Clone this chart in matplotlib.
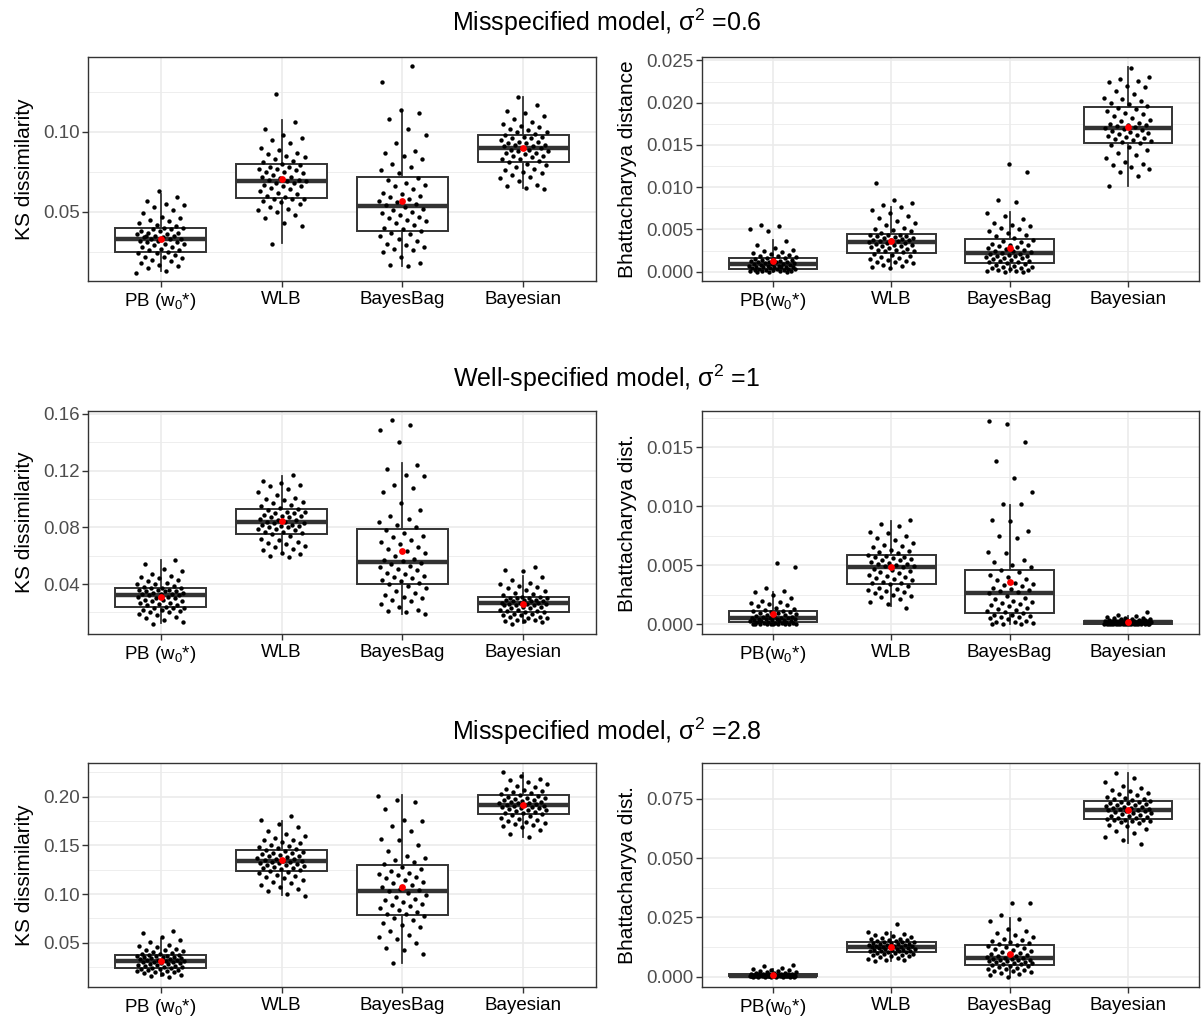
import numpy as np
import matplotlib
matplotlib.use('Agg')
import matplotlib.pyplot as plt
from matplotlib.ticker import MultipleLocator, FormatStrFormatter

plt.rcParams['font.family'] = ['Liberation Sans', 'DejaVu Sans']
plt.rcParams['mathtext.fontset'] = 'custom'
plt.rcParams['mathtext.rm'] = 'Liberation Sans'
plt.rcParams['mathtext.it'] = 'Liberation Sans:italic'

# method names
methods = ['PB', 'WLB', 'BayesBag', 'Bayesian']
labels_ks = [r'PB ($\mathregular{w_0}$*)', 'WLB', 'BayesBag', 'Bayesian']
labels_bh = [r'PB($\mathregular{w_0}$*)', 'WLB', 'BayesBag', 'Bayesian']

titles = [r'Misspecified model, $\mathregular{\sigma^2}$ =0.6',
          r'Well-specified model, $\mathregular{\sigma^2}$ =1',
          r'Misspecified model, $\mathregular{\sigma^2}$ =2.8']

# ---- box stats (whislo, q1, med, q3, whishi, mean)
# row 1, sigma^2 = 0.6
ks06_box = [[0.0131, 0.0250, 0.0333, 0.0398, 0.0610, 0.0333],
            [0.0306, 0.0588, 0.0696, 0.0798, 0.1077, 0.0704],
            [0.0160, 0.0377, 0.0535, 0.0717, 0.1140, 0.0567],
            [0.0646, 0.0810, 0.0900, 0.0980, 0.1219, 0.0900]]
bh06_box = [[0.0000, 0.0003, 0.0009, 0.0016, 0.0038, 0.00126],
            [0.0004, 0.0022, 0.00346, 0.00445, 0.0077, 0.0036],
            [0.0000, 0.00106, 0.00217, 0.00386, 0.00705, 0.00276],
            [0.0101, 0.01524, 0.01705, 0.0195, 0.0242, 0.0171]]
# row 2, sigma^2 = 1
ks1_box = [[0.0125, 0.0236, 0.0320, 0.0372, 0.0571, 0.0306],
           [0.0611, 0.0755, 0.0837, 0.0928, 0.1166, 0.0846],
           [0.0189, 0.0400, 0.0555, 0.0790, 0.1257, 0.0630],
           [0.0125, 0.0200, 0.0266, 0.0308, 0.0454, 0.0261]]
bh1_box = [[0.0000, 0.00014, 0.0005, 0.00113, 0.0027, 0.00084],
           [0.0015, 0.00343, 0.00484, 0.0059, 0.00875, 0.00484],
           [0.0000, 0.00093, 0.00267, 0.00462, 0.0101, 0.00357],
           [0.0000, 0.0000, 0.00014, 0.00028, 0.00065, 0.00017]]
# row 3, sigma^2 = 2.8
ks28_box = [[0.0158, 0.0243, 0.0312, 0.0373, 0.0534, 0.0312],
            [0.0990, 0.1236, 0.1339, 0.1452, 0.1750, 0.1346],
            [0.0291, 0.0784, 0.1031, 0.1298, 0.2017, 0.1072],
            [0.1586, 0.1818, 0.1911, 0.2014, 0.2247, 0.1911]]
bh28_box = [[0.0000, 0.0001, 0.0004, 0.0010, 0.0030, 0.0007],
            [0.0066, 0.0104, 0.0125, 0.0146, 0.0189, 0.0125],
            [0.0000, 0.0051, 0.0080, 0.0134, 0.0249, 0.0094],
            [0.0564, 0.0664, 0.0705, 0.0742, 0.0861, 0.0705]]

# ---- individual replicate values (estimated from the jittered dots)
ks06_pb = [0.012, 0.013, 0.015, 0.016, 0.017, 0.018, 0.019, 0.020, 0.021, 0.022, 0.022, 0.023, 0.024, 0.024, 0.025,
           0.026, 0.026, 0.027, 0.028, 0.028, 0.029, 0.030, 0.030, 0.031, 0.031, 0.032, 0.032, 0.033, 0.033, 0.033,
           0.034, 0.034, 0.035, 0.035, 0.036, 0.036, 0.037, 0.037, 0.038, 0.038, 0.039, 0.039, 0.040, 0.040, 0.035,
           0.041, 0.042, 0.043, 0.044, 0.045, 0.046, 0.047, 0.049, 0.051, 0.053, 0.054, 0.055, 0.057, 0.059, 0.063]
ks06_wlb = [0.030, 0.041, 0.043, 0.046, 0.048, 0.050, 0.051, 0.052, 0.053, 0.055, 0.056, 0.057, 0.058, 0.058, 0.058,
            0.059, 0.060, 0.061, 0.062, 0.063, 0.064, 0.065, 0.066, 0.066, 0.067, 0.068, 0.068, 0.069, 0.069, 0.070,
            0.070, 0.071, 0.072, 0.072, 0.073, 0.074, 0.075, 0.075, 0.076, 0.077, 0.077, 0.078, 0.078, 0.079, 0.080,
            0.081, 0.082, 0.083, 0.084, 0.085, 0.086, 0.087, 0.089, 0.090, 0.093, 0.095, 0.096, 0.098, 0.102, 0.106, 0.124]
ks06_bb = [0.016, 0.017, 0.018, 0.022, 0.025, 0.026, 0.027, 0.028, 0.029, 0.030, 0.032, 0.033, 0.035, 0.036, 0.037,
           0.038, 0.039, 0.040, 0.042, 0.043, 0.044, 0.045, 0.046, 0.047, 0.048, 0.049, 0.050, 0.051, 0.052, 0.053,
           0.054, 0.055, 0.056, 0.057, 0.058, 0.059, 0.060, 0.061, 0.062, 0.064, 0.066, 0.067, 0.068, 0.070, 0.071,
           0.074, 0.076, 0.078, 0.080, 0.083, 0.085, 0.087, 0.088, 0.093, 0.098, 0.102, 0.108, 0.112, 0.114, 0.131, 0.141]
ks06_bay = [0.064, 0.065, 0.066, 0.067, 0.069, 0.071, 0.072, 0.073, 0.074, 0.075, 0.076, 0.077, 0.078, 0.079, 0.080,
            0.081, 0.082, 0.083, 0.083, 0.084, 0.085, 0.085, 0.086, 0.087, 0.087, 0.088, 0.088, 0.089, 0.089, 0.090,
            0.090, 0.091, 0.091, 0.092, 0.092, 0.093, 0.093, 0.094, 0.094, 0.095, 0.096, 0.096, 0.097, 0.097, 0.098,
            0.099, 0.100, 0.100, 0.101, 0.102, 0.103, 0.104, 0.105, 0.106, 0.108, 0.110, 0.112, 0.113, 0.117, 0.122]

bh06_pb = [0.0000, 0.0000, 0.0000, 0.0001, 0.0001, 0.0001, 0.0001, 0.0002, 0.0002, 0.0002, 0.0002, 0.0003, 0.0003, 0.0003, 0.0003,
           0.0004, 0.0004, 0.0005, 0.0005, 0.0005, 0.0006, 0.0006, 0.0006, 0.0007, 0.0007, 0.0007, 0.0008, 0.0008, 0.0009, 0.0009,
           0.0009, 0.0010, 0.0010, 0.0011, 0.0011, 0.0012, 0.0012, 0.0013, 0.0013, 0.0014, 0.0014, 0.0015, 0.0015, 0.0016, 0.0016,
           0.0017, 0.0018, 0.0019, 0.0020, 0.0021, 0.0022, 0.0023, 0.0024, 0.0026, 0.0028, 0.0032, 0.0036, 0.0048, 0.0050, 0.0054, 0.0055]
bh06_wlb = [0.0004, 0.0006, 0.0007, 0.0008, 0.0010, 0.0011, 0.0012, 0.0013, 0.0014, 0.0015, 0.0016, 0.0017, 0.0018, 0.0020, 0.0021,
            0.0023, 0.0024, 0.0025, 0.0026, 0.0026, 0.0027, 0.0028, 0.0029, 0.0030, 0.0030, 0.0031, 0.0032, 0.0033, 0.0034, 0.0034,
            0.0035, 0.0036, 0.0036, 0.0037, 0.0038, 0.0038, 0.0039, 0.0040, 0.0040, 0.0041, 0.0042, 0.0042, 0.0043, 0.0044, 0.0044,
            0.0046, 0.0048, 0.0049, 0.0050, 0.0052, 0.0055, 0.0058, 0.0060, 0.0063, 0.0066, 0.0070, 0.0073, 0.0077, 0.0079, 0.0081, 0.0085, 0.0105]
bh06_bb = [0.0000, 0.0000, 0.0001, 0.0001, 0.0002, 0.0002, 0.0003, 0.0004, 0.0004, 0.0005, 0.0006, 0.0007, 0.0008, 0.0009, 0.0010,
           0.0011, 0.0012, 0.0013, 0.0013, 0.0014, 0.0015, 0.0016, 0.0016, 0.0017, 0.0018, 0.0019, 0.0019, 0.0020, 0.0021, 0.0021,
           0.0022, 0.0023, 0.0024, 0.0025, 0.0026, 0.0027, 0.0028, 0.0029, 0.0030, 0.0031, 0.0032, 0.0033, 0.0035, 0.0036, 0.0038,
           0.0040, 0.0042, 0.0044, 0.0046, 0.0048, 0.0050, 0.0052, 0.0054, 0.0055, 0.0058, 0.0062, 0.0066, 0.0069, 0.0083, 0.0085, 0.0118, 0.0128]
bh06_bay = [0.0101, 0.0113, 0.0118, 0.0122, 0.0124, 0.0126, 0.0128, 0.0130, 0.0135, 0.0138, 0.0140, 0.0144, 0.0147, 0.0150, 0.0152,
            0.0153, 0.0155, 0.0156, 0.0157, 0.0158, 0.0159, 0.0160, 0.0162, 0.0163, 0.0164, 0.0165, 0.0166, 0.0168, 0.0169, 0.0170,
            0.0171, 0.0172, 0.0173, 0.0174, 0.0175, 0.0176, 0.0178, 0.0180, 0.0182, 0.0184, 0.0186, 0.0188, 0.0190, 0.0192, 0.0194,
            0.0196, 0.0198, 0.0200, 0.0202, 0.0204, 0.0206, 0.0210, 0.0214, 0.0218, 0.0220, 0.0224, 0.0226, 0.0228, 0.0230, 0.0241]

ks1_pb = [0.012, 0.013, 0.015, 0.016, 0.017, 0.018, 0.019, 0.020, 0.020, 0.021, 0.022, 0.022, 0.023, 0.023, 0.023,
          0.024, 0.025, 0.025, 0.026, 0.027, 0.027, 0.028, 0.028, 0.029, 0.029, 0.030, 0.030, 0.031, 0.031, 0.032,
          0.032, 0.033, 0.033, 0.033, 0.034, 0.034, 0.035, 0.035, 0.035, 0.036, 0.036, 0.036, 0.037, 0.037, 0.037,
          0.038, 0.039, 0.040, 0.040, 0.041, 0.042, 0.043, 0.044, 0.045, 0.046, 0.047, 0.049, 0.051, 0.054, 0.057]
ks1_wlb = [0.059, 0.060, 0.061, 0.062, 0.064, 0.065, 0.066, 0.067, 0.068, 0.069, 0.070, 0.071, 0.072, 0.074, 0.075,
           0.076, 0.077, 0.077, 0.078, 0.079, 0.079, 0.080, 0.080, 0.081, 0.081, 0.082, 0.082, 0.083, 0.083, 0.084,
           0.084, 0.085, 0.085, 0.086, 0.087, 0.087, 0.088, 0.088, 0.089, 0.090, 0.090, 0.091, 0.091, 0.092, 0.093,
           0.094, 0.095, 0.096, 0.097, 0.098, 0.099, 0.100, 0.101, 0.103, 0.105, 0.107, 0.109, 0.110, 0.111, 0.113, 0.117]
ks1_bb = [0.019, 0.020, 0.021, 0.022, 0.024, 0.026, 0.028, 0.029, 0.030, 0.031, 0.032, 0.034, 0.035, 0.037, 0.039,
          0.040, 0.041, 0.042, 0.043, 0.044, 0.045, 0.046, 0.047, 0.048, 0.050, 0.051, 0.052, 0.053, 0.054, 0.055,
          0.056, 0.057, 0.058, 0.060, 0.062, 0.063, 0.065, 0.066, 0.068, 0.070, 0.071, 0.073, 0.074, 0.076, 0.078,
          0.080, 0.082, 0.084, 0.086, 0.088, 0.092, 0.097, 0.105, 0.108, 0.110, 0.116, 0.117, 0.121, 0.124, 0.140, 0.149, 0.152, 0.156]
ks1_bay = [0.012, 0.013, 0.014, 0.014, 0.015, 0.015, 0.016, 0.016, 0.017, 0.017, 0.018, 0.018, 0.019, 0.019, 0.020,
           0.020, 0.021, 0.021, 0.022, 0.022, 0.023, 0.023, 0.024, 0.024, 0.025, 0.025, 0.025, 0.026, 0.026, 0.026,
           0.027, 0.027, 0.027, 0.028, 0.028, 0.028, 0.029, 0.029, 0.029, 0.030, 0.030, 0.030, 0.030, 0.031, 0.031,
           0.032, 0.033, 0.034, 0.035, 0.036, 0.037, 0.038, 0.039, 0.040, 0.041, 0.043, 0.045, 0.049, 0.050, 0.052]

bh1_pb = [0.0, 0.0, 0.0, 0.0, 0.0, 0.00001, 0.00002, 0.00003, 0.00004, 0.00005, 0.00006, 0.00008, 0.0001, 0.00012, 0.00014,
          0.00016, 0.0002, 0.00022, 0.00025, 0.00028, 0.0003, 0.00032, 0.00035, 0.00038, 0.0004, 0.00042, 0.00045, 0.00047, 0.00049, 0.0005,
          0.00052, 0.00055, 0.0006, 0.00062, 0.00066, 0.0007, 0.00075, 0.0008, 0.00085, 0.0009, 0.00095, 0.001, 0.00105, 0.0011, 0.00112,
          0.0012, 0.0013, 0.0014, 0.0015, 0.0016, 0.0017, 0.0018, 0.0019, 0.002, 0.0022, 0.0025, 0.0027, 0.0028, 0.0031, 0.0048, 0.0052]
bh1_wlb = [0.0014, 0.0017, 0.0019, 0.0021, 0.0023, 0.0024, 0.0025, 0.0026, 0.0027, 0.0028, 0.0029, 0.0030, 0.0031, 0.0032, 0.0034,
           0.0035, 0.0035, 0.0036, 0.0037, 0.0038, 0.0039, 0.0040, 0.0041, 0.0042, 0.0043, 0.0044, 0.0045, 0.0046, 0.0047, 0.0048,
           0.0049, 0.0049, 0.0050, 0.0051, 0.0051, 0.0052, 0.0053, 0.0054, 0.0054, 0.0055, 0.0056, 0.0057, 0.0057, 0.0058, 0.0059,
           0.0060, 0.0061, 0.0062, 0.0063, 0.0065, 0.0066, 0.0067, 0.0069, 0.0071, 0.0073, 0.0075, 0.0077, 0.0078, 0.0083, 0.0085, 0.0088]
bh1_bb = [0.0, 0.0, 0.00005, 0.0001, 0.00015, 0.0002, 0.0003, 0.0004, 0.0005, 0.0006, 0.0006, 0.0007, 0.0008, 0.0008, 0.0009,
          0.0010, 0.0011, 0.0012, 0.0013, 0.0014, 0.0015, 0.0016, 0.0017, 0.0018, 0.0019, 0.0020, 0.0021, 0.0022, 0.0024, 0.0026,
          0.0027, 0.0028, 0.0029, 0.0030, 0.0031, 0.0032, 0.0033, 0.0034, 0.0035, 0.0037, 0.0038, 0.0040, 0.0042, 0.0044, 0.0046,
          0.0048, 0.0050, 0.0053, 0.0054, 0.0060, 0.0061, 0.0073, 0.0075, 0.0079, 0.0087, 0.0088, 0.0102, 0.0102, 0.0112, 0.0124,
          0.0138, 0.0154, 0.0170, 0.0172]
bh1_bay = [0.0, 0.0, 0.0, 0.0, 0.0, 0.0, 0.0, 0.0, 0.0, 0.0, 0.0, 0.0, 0.0, 0.0, 0.0,
           0.00001, 0.00002, 0.00003, 0.00004, 0.00005, 0.00006, 0.00007, 0.00008, 0.00009, 0.0001, 0.00011, 0.00012, 0.00013, 0.00014, 0.00014,
           0.00015, 0.00016, 0.00017, 0.00018, 0.00019, 0.0002, 0.00021, 0.00022, 0.00023, 0.00024, 0.00025, 0.00026, 0.00027, 0.00028, 0.00028,
           0.0003, 0.00032, 0.00034, 0.00036, 0.00038, 0.0004, 0.00042, 0.00045, 0.00048, 0.0005, 0.00055, 0.0006, 0.00065, 0.0008, 0.00104]

ks28_pb = [0.015, 0.016, 0.017, 0.018, 0.019, 0.020, 0.020, 0.021, 0.021, 0.022, 0.022, 0.023, 0.023, 0.024, 0.024,
           0.025, 0.025, 0.026, 0.026, 0.027, 0.027, 0.028, 0.028, 0.029, 0.029, 0.030, 0.030, 0.030, 0.031, 0.031,
           0.032, 0.032, 0.032, 0.033, 0.033, 0.034, 0.034, 0.035, 0.035, 0.035, 0.036, 0.036, 0.036, 0.037, 0.037,
           0.038, 0.038, 0.039, 0.040, 0.041, 0.042, 0.043, 0.044, 0.046, 0.047, 0.048, 0.051, 0.053, 0.056, 0.060, 0.062]
ks28_wlb = [0.098, 0.100, 0.103, 0.105, 0.107, 0.109, 0.111, 0.112, 0.114, 0.116, 0.118, 0.119, 0.120, 0.122, 0.123,
            0.124, 0.125, 0.126, 0.127, 0.127, 0.128, 0.129, 0.130, 0.130, 0.131, 0.132, 0.132, 0.133, 0.133, 0.134,
            0.134, 0.135, 0.136, 0.136, 0.137, 0.138, 0.139, 0.139, 0.140, 0.141, 0.142, 0.142, 0.143, 0.144, 0.145,
            0.146, 0.147, 0.148, 0.149, 0.150, 0.152, 0.153, 0.155, 0.156, 0.158, 0.160, 0.162, 0.165, 0.169, 0.172, 0.176, 0.180]
ks28_bb = [0.029, 0.038, 0.042, 0.045, 0.050, 0.054, 0.056, 0.058, 0.062, 0.066, 0.068, 0.070, 0.073, 0.075, 0.077,
           0.079, 0.080, 0.082, 0.084, 0.086, 0.088, 0.089, 0.090, 0.092, 0.094, 0.095, 0.097, 0.099, 0.101, 0.103,
           0.104, 0.105, 0.107, 0.109, 0.111, 0.112, 0.114, 0.116, 0.118, 0.120, 0.121, 0.122, 0.124, 0.126, 0.128,
           0.131, 0.133, 0.135, 0.137, 0.139, 0.144, 0.150, 0.155, 0.157, 0.165, 0.170, 0.175, 0.176, 0.187, 0.195, 0.197, 0.201]
ks28_bay = [0.159, 0.162, 0.166, 0.169, 0.170, 0.171, 0.172, 0.173, 0.174, 0.175, 0.176, 0.177, 0.178, 0.180, 0.181,
            0.182, 0.183, 0.183, 0.184, 0.185, 0.186, 0.186, 0.187, 0.188, 0.188, 0.189, 0.189, 0.190, 0.190, 0.191,
            0.191, 0.192, 0.193, 0.193, 0.194, 0.195, 0.195, 0.196, 0.197, 0.197, 0.198, 0.199, 0.199, 0.200, 0.201,
            0.202, 0.203, 0.204, 0.205, 0.206, 0.207, 0.208, 0.210, 0.211, 0.213, 0.215, 0.217, 0.218, 0.221, 0.225]

bh28_pb = [0.0, 0.0, 0.0, 0.0, 0.0, 0.0, 0.0, 0.0, 0.00005, 0.00005, 0.00005, 0.0001, 0.0001, 0.0001, 0.0001,
           0.00012, 0.00015, 0.00018, 0.0002, 0.00022, 0.00025, 0.00027, 0.0003, 0.00032, 0.00034, 0.00035, 0.00037, 0.00038, 0.0004, 0.0004,
           0.00042, 0.00045, 0.00048, 0.0005, 0.00055, 0.0006, 0.00065, 0.0007, 0.00075, 0.0008, 0.00085, 0.0009, 0.00095, 0.001, 0.001,
           0.0011, 0.0012, 0.0013, 0.0014, 0.0015, 0.0016, 0.0018, 0.002, 0.0022, 0.0024, 0.0026, 0.0028, 0.0032, 0.0038, 0.0043, 0.0047]
bh28_wlb = [0.0064, 0.0068, 0.0072, 0.0076, 0.0080, 0.0083, 0.0086, 0.0089, 0.0091, 0.0093, 0.0095, 0.0097, 0.0099, 0.0101, 0.0103,
            0.0105, 0.0106, 0.0108, 0.0109, 0.0110, 0.0111, 0.0113, 0.0114, 0.0115, 0.0117, 0.0118, 0.0120, 0.0121, 0.0123, 0.0124,
            0.0126, 0.0127, 0.0128, 0.0130, 0.0131, 0.0132, 0.0134, 0.0135, 0.0136, 0.0138, 0.0139, 0.0141, 0.0142, 0.0144, 0.0145,
            0.0147, 0.0149, 0.0151, 0.0153, 0.0155, 0.0158, 0.0160, 0.0163, 0.0166, 0.0170, 0.0174, 0.0178, 0.0183, 0.0188, 0.0221]
bh28_bb = [0.0000, 0.0005, 0.0010, 0.0014, 0.0018, 0.0022, 0.0025, 0.0028, 0.0031, 0.0034, 0.0037, 0.0040, 0.0043, 0.0046, 0.0049,
           0.0052, 0.0054, 0.0056, 0.0058, 0.0060, 0.0062, 0.0064, 0.0066, 0.0068, 0.0070, 0.0072, 0.0074, 0.0076, 0.0078, 0.0080,
           0.0082, 0.0085, 0.0088, 0.0091, 0.0094, 0.0097, 0.0100, 0.0104, 0.0108, 0.0112, 0.0116, 0.0120, 0.0124, 0.0128, 0.0132,
           0.0136, 0.0140, 0.0145, 0.0150, 0.0155, 0.0160, 0.0168, 0.0175, 0.0185, 0.0193, 0.0200, 0.0233, 0.0245, 0.0258, 0.0310, 0.0311]
bh28_bay = [0.0560, 0.0575, 0.0590, 0.0605, 0.0615, 0.0625, 0.0635, 0.0642, 0.0648, 0.0652, 0.0655, 0.0658, 0.0660, 0.0662, 0.0663,
            0.0666, 0.0668, 0.0671, 0.0674, 0.0677, 0.0680, 0.0683, 0.0686, 0.0689, 0.0692, 0.0695, 0.0698, 0.0700, 0.0702, 0.0704,
            0.0706, 0.0708, 0.0711, 0.0713, 0.0716, 0.0718, 0.0721, 0.0723, 0.0726, 0.0728, 0.0731, 0.0734, 0.0737, 0.0739, 0.0741,
            0.0744, 0.0748, 0.0752, 0.0756, 0.0760, 0.0765, 0.0770, 0.0776, 0.0782, 0.0790, 0.0798, 0.0805, 0.0820, 0.0840, 0.0860]

# panel specs: (points, boxes, ylabel, xlabels, ylim, major step, minor step, tick format)
panels = [
    ([ks06_pb, ks06_wlb, ks06_bb, ks06_bay], ks06_box, 'KS dissimilarity', labels_ks, (0.0067, 0.1469), 0.05, 0.025, '%.2f'),
    ([bh06_pb, bh06_wlb, bh06_bb, bh06_bay], bh06_box, 'Bhattacharyya distance', labels_bh, (-0.0011, 0.0254), 0.005, 0.0025, '%.3f'),
    ([ks1_pb, ks1_wlb, ks1_bb, ks1_bay], ks1_box, 'KS dissimilarity', labels_ks, (0.0048, 0.1621), 0.04, 0.02, '%.2f'),
    ([bh1_pb, bh1_wlb, bh1_bb, bh1_bay], bh1_box, 'Bhattacharyya dist.', labels_bh, (-0.00084, 0.01807), 0.005, 0.0025, '%.3f'),
    ([ks28_pb, ks28_wlb, ks28_bb, ks28_bay], ks28_box, 'KS dissimilarity', labels_ks, (0.0045, 0.2346), 0.05, 0.025, '%.2f'),
    ([bh28_pb, bh28_wlb, bh28_bb, bh28_bay], bh28_box, 'Bhattacharyya dist.', labels_bh, (-0.0044, 0.0902), 0.025, 0.0125, '%.3f'),
]

W, H = 1201., 1019.
# panel rectangles in pixels (left, top, right, bottom)
rects = [(88, 57, 596, 281), (702, 57, 1199, 281),
         (88, 411, 596, 634), (702, 411, 1199, 634),
         (88, 763, 596, 987), (702, 763, 1199, 987)]
title_y = [22, 378, 731]
ylab_x = [34, 637]   # right edge of the rotated y-label

fig = plt.figure(figsize=[W/100, H/100], dpi=100)
edge = '#333333'

for k, (pts, boxes, ylab, xlabs, ylim, maj, mnr, fmt) in enumerate(panels):
    l, t, r, b = rects[k]
    ax = fig.add_axes([l/W, 1-b/H, (r-l)/W, (b-t)/H])

    stats = []
    for bx in boxes:
        stats.append(dict(whislo=bx[0], q1=bx[1], med=bx[2], q3=bx[3], whishi=bx[4], fliers=[]))
    ax.bxp(stats, positions=[1, 2, 3, 4], widths=0.75, showcaps=False, showfliers=False,
           patch_artist=True, manage_ticks=False,
           boxprops=dict(facecolor='white', edgecolor=edge, linewidth=1.4),
           whiskerprops=dict(color=edge, linewidth=1.3),
           medianprops=dict(color=edge, linewidth=3.2, solid_capstyle='butt'))

    for j, vals in enumerate(pts):
        n = len(vals)
        jit = ((np.arange(n) * 0.6180339887 + 0.31 * j + 0.17 * k) % 1.0 - 0.5) * 0.4
        ax.scatter(j + 1 + jit, vals, s=10, color='black', linewidths=0, zorder=3)
    ax.scatter([1, 2, 3, 4], [bx[5] for bx in boxes], s=24, color='red', linewidths=0, zorder=4)

    ax.set_xlim(0.4, 4.6)
    ax.set_ylim(*ylim)
    ax.yaxis.set_major_locator(MultipleLocator(maj))
    ax.yaxis.set_minor_locator(MultipleLocator(mnr))
    ax.yaxis.set_major_formatter(FormatStrFormatter(fmt))
    ax.set_xticks([1, 2, 3, 4])
    ax.set_xticklabels(xlabs)
    ax.grid(True, which='major', color='#EBEBEB', lw=1.2, zorder=0)
    ax.grid(True, which='minor', axis='y', color='#EBEBEB', lw=0.6, zorder=0)
    ax.set_axisbelow(True)
    for s in ax.spines.values():
        s.set_color(edge)
        s.set_linewidth(1.0)
    ax.tick_params(axis='both', which='major', length=4, width=1.0, color=edge)
    ax.tick_params(axis='y', which='minor', length=0)
    ax.tick_params(axis='y', labelsize=13.5, labelcolor='#4D4D4D', pad=2)
    ax.tick_params(axis='x', labelsize=13.5, labelcolor='black', pad=3)
    ax.set_ylabel(ylab, fontsize=15)
    ax.yaxis.set_label_coords((ylab_x[k % 2] - l) / (r - l), 0.5)

for i in range(3):
    fig.text(0.505, 1 - title_y[i]/H, titles[i], ha='center', va='center', fontsize=18)

fig.savefig('out.png', dpi=100)
